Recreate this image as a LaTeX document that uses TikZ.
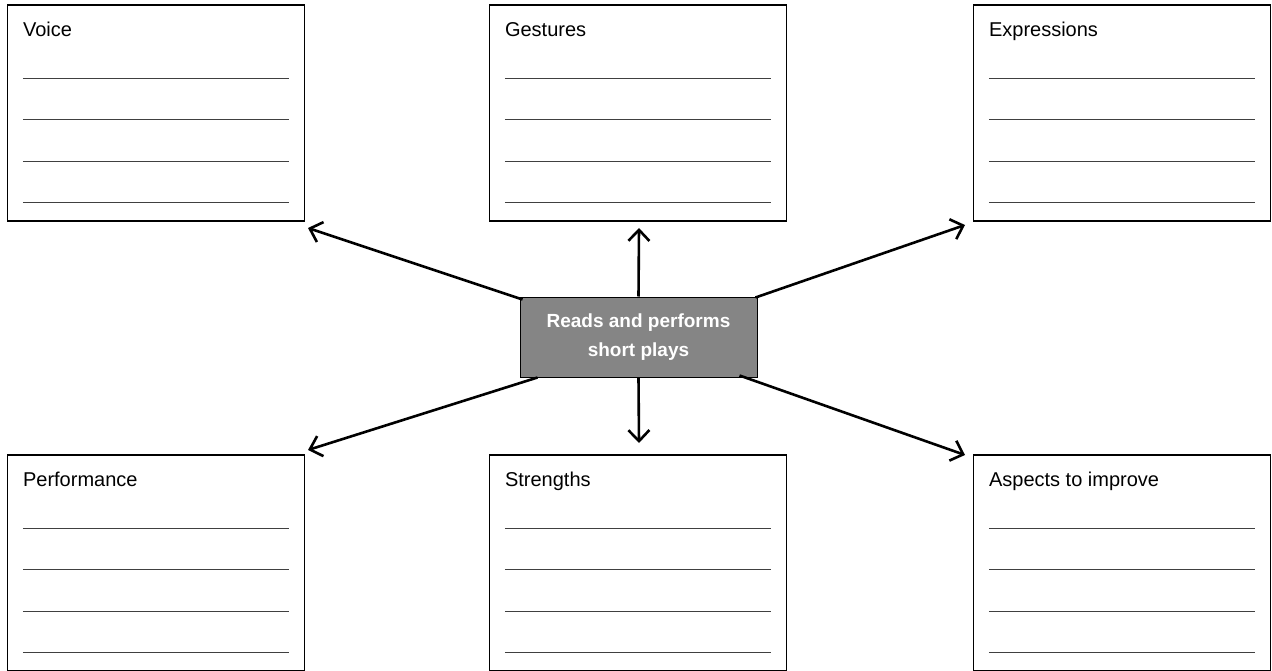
\documentclass[tikz,border=0pt]{standalone}
\usepackage{fontspec}
\setmainfont{Liberation Sans}
\usetikzlibrary{arrows.meta,calc}

\tikzset{
  card/.style={draw=black, line width=1.3pt, fill=white, rectangle,
    minimum width=297pt, minimum height=216pt, inner sep=0pt},
  cardtitle/.style={anchor=base west, inner sep=0pt,
    font=\fontsize{20}{24}\selectfont},
  writeline/.style={draw=black!75, line width=0.8pt},
  hub/.style={draw=black, line width=1pt, fill=black!48, rectangle,
    minimum width=237pt, minimum height=80pt, inner sep=0pt, align=center,
    text=white, font=\bfseries\fontsize{19}{29}\selectfont},
  link/.style={draw=black, line width=2.6pt,
    -{Straight Barb[length=11pt,width=21pt,line width=2.6pt]}}
}

% a card with its title and four ruled lines for writing
\newcommand{\ruledcard}[4]{%
  \node[card] (#1) at (#2,#3) {};
  \node[cardtitle] (#1-title) at ($(#1.north west)+(16,32)$) {#4};
  \foreach \dy in {74,115,157,198} {
    \draw[writeline] ($(#1.north west)+(16,\dy)$) -- ($(#1.north east)+(-16,\dy)$);
  }%
}

\begin{document}
\begin{tikzpicture}[x=1pt,y=-1pt]
\useasboundingbox (0,0) rectangle (1272,671);

\ruledcard{voice}{156}{113}{Voice}
\ruledcard{gestures}{638}{113}{Gestures}
\ruledcard{expressions}{1122}{113}{Expressions}
\ruledcard{performance}{156}{563}{Performance}
\ruledcard{strengths}{638}{563}{Strengths}
\ruledcard{improve}{1122}{563}{Aspects to improve}

\node[hub] (hub) at (638.5,337) {Reads and performs\\short plays};

% arrow tips just short of each card
\coordinate (tipVoice) at (308,228);
\coordinate (tipGestures) at (639,228);
\coordinate (tipExpressions) at (965,225);
\coordinate (tipPerformance) at (308,450);
\coordinate (tipStrengths) at (639,443);
\coordinate (tipImprove) at (965,455);

\draw[link] ($(hub.north west)+(3,3)$) -- (tipVoice);
\draw[link] (hub.north) -- (tipGestures);
\draw[link] ($(hub.north east)+(-2,1)$) -- (tipExpressions);
\draw[link] ($(hub.south west)+(18,0)$) -- (tipPerformance);
\draw[link] (hub.south) -- (tipStrengths);
\draw[link] ($(hub.south east)+(-18,-2)$) -- (tipImprove);
\end{tikzpicture}
\end{document}
